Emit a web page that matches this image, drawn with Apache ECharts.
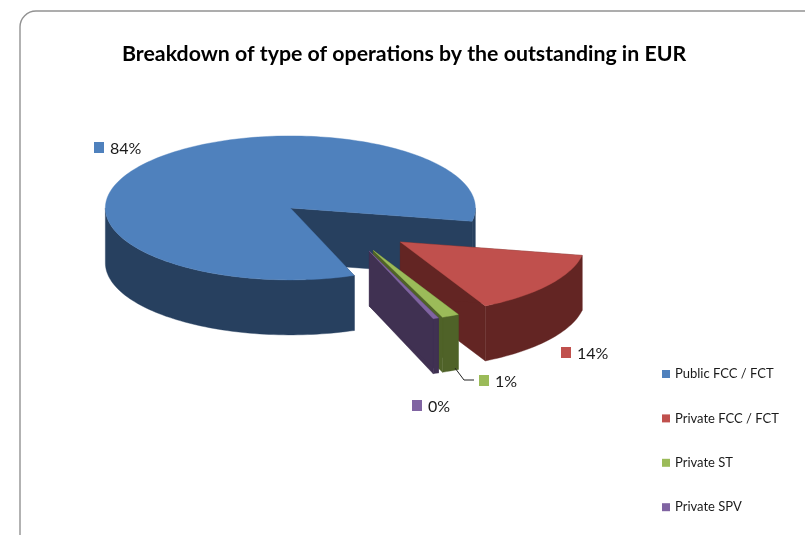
<!DOCTYPE html>
<html>
<head>
<meta charset="utf-8">
<style>html,body{margin:0;padding:0;background:#fff}#chart{width:805px;height:535px}</style>
<script src="https://cdn.jsdelivr.net/npm/echarts@6/dist/echarts.min.js"></script>
</head>
<body>
<div id="chart"></div>
<script>
// Outstanding amount share by type of operation, in percent
const categories = ['Public FCC / FCT', 'Private FCC / FCT', 'Private ST', 'Private SPV'];
const shares = [83.5, 14.4, 1.49, 0.49];
const topColors = ['#4F81BD', '#C0504D', '#9BBB59', '#8064A2'];
const sideColors = ['#27405F', '#632523', '#4F6228', '#403152'];
const labelKeys = [[94, 142], [561, 347], [479, 375], [412, 400]];

// Projection of the tilted pie
const pie = { cx: 344, cy: 225.6, rx: 185, ry: 72, depth: 55, explode: 0.38, firstAngle: 69.8 };
const FONT = 'Lato, Carlito, "Open Sans", sans-serif';
const total = shares.reduce((a, b) => a + b, 0);
const rad = d => d * Math.PI / 180;

// Start and end angle of each slice, clockwise from the x axis
const spans = [];
shares.reduce((start, v) => {
  const end = start + v / total * 360;
  spans.push([start, end]);
  return end;
}, pie.firstAngle);

function arcPoints(cx, cy, a0, a1, dy) {
  const pts = [];
  const steps = Math.max(2, Math.ceil((a1 - a0) / 1.5));
  for (let i = 0; i <= steps; i++) {
    const a = rad(a0 + (a1 - a0) * i / steps);
    pts.push([cx + pie.rx * Math.cos(a), cy + pie.ry * Math.sin(a) + dy]);
  }
  return pts;
}

function renderSlice(index) {
  const [a0, a1] = spans[index];
  const mid = rad((a0 + a1) / 2);
  const cx = pie.cx + pie.explode * pie.rx * Math.cos(mid);
  const cy = pie.cy + pie.explode * pie.ry * Math.sin(mid);
  const d = pie.depth;
  const side = sideColors[index];
  const poly = (points, fill) => ({
    type: 'polygon',
    shape: { points },
    style: { fill, stroke: fill, lineWidth: 0.4 }
  });
  const children = [];

  // Cut faces running from the axis to the rim
  [a1, a0].forEach(a => {
    const e = arcPoints(cx, cy, a, a, 0)[0];
    children.push(poly([[cx, cy], e, [e[0], e[1] + d], [cx, cy + d]], side));
  });

  // Outer wall: only the part of the rim facing the viewer
  for (let k = 0; k <= 2; k++) {
    const from = Math.max(a0, k * 360);
    const to = Math.min(a1, k * 360 + 180);
    if (to > from) {
      const upper = arcPoints(cx, cy, from, to, 0);
      const lower = arcPoints(cx, cy, from, to, d).reverse();
      children.push(poly(upper.concat(lower), side));
    }
  }

  // Top surface
  children.push(poly([[cx, cy]].concat(arcPoints(cx, cy, a0, a1, 0)), topColors[index]));

  // Value label with its colour key
  const [kx, ky] = labelKeys[index];
  children.push({
    type: 'rect',
    shape: { x: kx, y: ky, width: 10, height: 11 },
    style: { fill: topColors[index] }
  });
  children.push({
    type: 'text',
    style: {
      text: Math.round(shares[index] / total * 100) + '%',
      x: kx + 16, y: ky + 7,
      fill: '#1a1a1a', fontSize: 16, fontFamily: FONT,
      align: 'left', verticalAlign: 'middle'
    }
  });
  if (index === 2) {
    // Leader from the thin slice out to its label
    children.push({
      type: 'polyline',
      shape: { points: [[455, 368], [464, 380], [474, 380]] },
      style: { stroke: '#222', lineWidth: 1, fill: 'none' }
    });
  }
  return { type: 'group', children };
}

const chart = echarts.init(document.getElementById('chart'), null, { renderer: 'canvas' });
chart.setOption({
  animation: false,
  backgroundColor: '#fff',
  title: {
    text: 'Breakdown of type of operations by the outstanding in EUR',
    left: 122, top: 44,
    padding: 0,
    textStyle: { fontFamily: FONT, fontWeight: 'bold', fontSize: 21.3, color: '#000' }
  },
  legend: {
    orient: 'vertical',
    left: 662, top: 366,
    padding: 0,
    itemWidth: 8, itemHeight: 8, itemGap: 28.4,
    icon: 'rect',
    selectedMode: false,
    data: categories,
    textStyle: { fontFamily: FONT, fontSize: 13, color: '#1a1a1a', lineHeight: 16 }
  },
  graphic: [{
    type: 'rect',
    silent: true,
    z: -1,
    shape: { x: 20, y: 11, width: 900, height: 640, r: 16 },
    style: { fill: '#fff', stroke: '#929292', lineWidth: 1.4 }
  }],
  series: categories.map((name, i) => ({
    type: 'custom',
    name,
    coordinateSystem: 'none',
    silent: true,
    z: 2 + i,
    itemStyle: { color: topColors[i] },
    data: [shares[i]],
    renderItem: () => renderSlice(i)
  }))
});
</script>
</body>
</html>
